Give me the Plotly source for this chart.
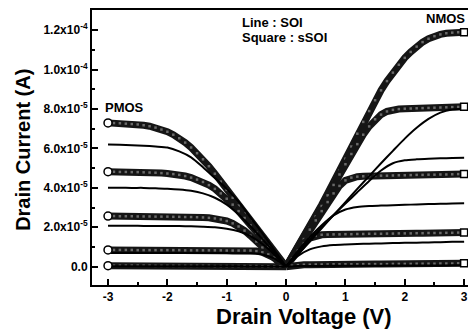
import plotly.graph_objects as go

# ---------------- data (currents in units of 1e-5 A) ----------------
v_n_sq = [round(0.1 * i, 1) for i in range(31)]          # 0.0 .. 3.0
v_p_sq = [round(-3.0 + 0.1 * i, 1) for i in range(31)]   # -3.0 .. 0.0
v_n_ln = [round(0.2 * i, 1) for i in range(16)]          # 0.0 .. 3.0
v_p_ln = [round(-3.0 + 0.2 * i, 1) for i in range(16)]   # -3.0 .. 0.0

# NMOS, sSOI (squares)
n_ssoi_1 = [0, 0.5, 1.0, 1.52, 2.05, 2.6, 3.15, 3.72, 4.3, 4.88, 5.48, 6.1, 6.75, 7.35, 7.9, 8.45,
            8.95, 9.42, 9.85, 10.25, 10.6, 10.9, 11.17, 11.4, 11.57, 11.7, 11.79, 11.85, 11.88, 11.9, 11.9]
n_ssoi_2 = [0, 0.48, 0.98, 1.5, 2.0, 2.55, 3.08, 3.62, 4.15, 4.68, 5.2, 5.72, 6.22, 6.7, 7.12, 7.48,
            7.72, 7.88, 7.96, 8.0, 8.02, 8.03, 8.04, 8.05, 8.06, 8.07, 8.08, 8.09, 8.1, 8.11, 8.12]
n_ssoi_3 = [0, 0.46, 0.93, 1.4, 1.88, 2.35, 2.82, 3.28, 3.72, 4.1, 4.38, 4.52, 4.57, 4.59, 4.6, 4.61,
            4.62, 4.62, 4.63, 4.64, 4.64, 4.65, 4.66, 4.66, 4.67, 4.67, 4.68, 4.68, 4.69, 4.7, 4.7]
n_ssoi_4 = [0, 0.42, 0.82, 1.18, 1.45, 1.58, 1.62, 1.63, 1.64, 1.64, 1.65, 1.65, 1.66, 1.66, 1.67, 1.67,
            1.67, 1.68, 1.68, 1.69, 1.69, 1.69, 1.7, 1.7, 1.71, 1.71, 1.71, 1.72, 1.72, 1.73, 1.73]
n_ssoi_5 = [0, 0.05, 0.08, 0.1, 0.1, 0.11, 0.11, 0.11, 0.12, 0.12, 0.12, 0.12, 0.12, 0.13, 0.13, 0.13,
            0.13, 0.13, 0.14, 0.14, 0.14, 0.14, 0.15, 0.15, 0.15, 0.15, 0.16, 0.16, 0.16, 0.17, 0.17]

# PMOS, sSOI (squares), |Id|
p_ssoi_1 = [7.3, 7.29, 7.28, 7.26, 7.24, 7.22, 7.18, 7.13, 7.06, 6.96, 6.85, 6.7, 6.52, 6.3, 6.05, 5.76,
            5.45, 5.1, 4.72, 4.32, 3.9, 3.5, 3.1, 2.7, 2.3, 1.9, 1.5, 1.12, 0.74, 0.37, 0]
p_ssoi_2 = [4.82, 4.82, 4.81, 4.81, 4.8, 4.8, 4.79, 4.78, 4.77, 4.75, 4.73, 4.7, 4.66, 4.6, 4.52, 4.42,
            4.3, 4.14, 3.95, 3.72, 3.45, 3.15, 2.82, 2.47, 2.1, 1.73, 1.37, 1.02, 0.68, 0.34, 0]
p_ssoi_3 = [2.57, 2.57, 2.56, 2.56, 2.56, 2.55, 2.55, 2.55, 2.54, 2.54, 2.54, 2.53, 2.53, 2.52, 2.52, 2.51,
            2.5, 2.48, 2.45, 2.4, 2.32, 2.2, 2.04, 1.83, 1.57, 1.28, 0.97, 0.66, 0.33, 0.16, 0]
p_ssoi_4 = [0.85, 0.85, 0.85, 0.85, 0.85, 0.84, 0.84, 0.84, 0.84, 0.84, 0.84, 0.84, 0.84, 0.83, 0.83, 0.83,
            0.83, 0.83, 0.83, 0.83, 0.82, 0.82, 0.82, 0.82, 0.82, 0.79, 0.73, 0.62, 0.45, 0.24, 0]
p_ssoi_5 = [0.05, 0.05, 0.05, 0.05, 0.05, 0.05, 0.05, 0.05, 0.04, 0.04, 0.04, 0.04, 0.04, 0.04, 0.04, 0.04,
            0.04, 0.04, 0.03, 0.03, 0.03, 0.03, 0.03, 0.03, 0.03, 0.03, 0.02, 0.02, 0.02, 0.01, 0]

# NMOS, SOI (lines)
n_soi_1 = [0, 0.62, 1.28, 1.95, 2.62, 3.28, 3.95, 4.6, 5.25, 5.88, 6.5, 7.05, 7.5, 7.82, 7.98, 8.02]
n_soi_2 = [0, 0.7, 1.38, 2.02, 2.62, 3.2, 3.78, 4.35, 4.88, 5.25, 5.4, 5.45, 5.48, 5.5, 5.52, 5.53]
n_soi_3 = [0, 0.8, 1.5, 2.1, 2.6, 2.9, 3.03, 3.08, 3.1, 3.12, 3.14, 3.16, 3.18, 3.19, 3.21, 3.22]
n_soi_4 = [0, 0.55, 0.88, 1.03, 1.1, 1.13, 1.15, 1.17, 1.18, 1.2, 1.21, 1.22, 1.23, 1.24, 1.26, 1.27]
n_soi_5 = [0, 0.03, 0.04, 0.04, 0.05, 0.05, 0.05, 0.05, 0.05, 0.06, 0.06, 0.06, 0.06, 0.06, 0.07, 0.07]

# PMOS, SOI (lines), |Id|
p_soi_1 = [6.2, 6.19, 6.17, 6.14, 6.1, 6.05, 5.85, 5.55, 5.05, 4.5, 3.95, 3.3, 2.5, 1.7, 0.85, 0]
p_soi_2 = [4.01, 4.01, 4.0, 4.0, 3.98, 3.96, 3.92, 3.85, 3.72, 3.5, 3.15, 2.65, 2.05, 1.4, 0.72, 0]
p_soi_3 = [2.08, 2.08, 2.08, 2.07, 2.07, 2.06, 2.06, 2.05, 2.03, 2.0, 1.93, 1.8, 1.55, 1.15, 0.62, 0]
p_soi_4 = [0.7, 0.7, 0.7, 0.7, 0.7, 0.7, 0.7, 0.7, 0.69, 0.69, 0.69, 0.68, 0.68, 0.62, 0.42, 0]
p_soi_5 = [0.02, 0.02, 0.02, 0.02, 0.02, 0.02, 0.02, 0.02, 0.02, 0.02, 0.02, 0.02, 0.01, 0.01, 0.01, 0]

y_tick_vals = [0, 2e-5, 4e-5, 6e-5, 8e-5, 1.0e-4, 1.2e-4]
y_tick_text = ["0.0", "2.0x10<sup>-5</sup>", "4.0x10<sup>-5</sup>", "6.0x10<sup>-5</sup>",
               "8.0x10<sup>-5</sup>", "1.0x10<sup>-4</sup>", "1.2x10<sup>-4</sup>"]
x_tick_vals = [-3, -2, -1, 0, 1, 2, 3]
x_tick_text = ["-3", "-2", "-1", "0", "1", "2", "3"]

SCALE = 1e-5
FONT = "Liberation Sans, Arial, sans-serif"

fig = go.Figure()

def scaled(vals):
    return [v * SCALE for v in vals]

# sSOI bands (dense squares)
for xs, ys in [(v_n_sq, n_ssoi_1), (v_n_sq, n_ssoi_2), (v_n_sq, n_ssoi_3), (v_n_sq, n_ssoi_4), (v_n_sq, n_ssoi_5),
               (v_p_sq, p_ssoi_1), (v_p_sq, p_ssoi_2), (v_p_sq, p_ssoi_3), (v_p_sq, p_ssoi_4), (v_p_sq, p_ssoi_5)]:
    fig.add_trace(go.Scatter(x=xs, y=scaled(ys), mode="lines+markers",
                             line=dict(color="#151515", width=7),
                             marker=dict(symbol="square", size=2.5, color="#6a6a6a", line=dict(width=0)),
                             showlegend=False, hoverinfo="skip"))

# SOI lines
for xs, ys in [(v_n_ln, n_soi_1), (v_n_ln, n_soi_2), (v_n_ln, n_soi_3), (v_n_ln, n_soi_4), (v_n_ln, n_soi_5),
               (v_p_ln, p_soi_1), (v_p_ln, p_soi_2), (v_p_ln, p_soi_3), (v_p_ln, p_soi_4), (v_p_ln, p_soi_5)]:
    fig.add_trace(go.Scatter(x=xs, y=scaled(ys), mode="lines",
                             line=dict(color="#000000", width=2, shape="spline", smoothing=0.6),
                             showlegend=False, hoverinfo="skip"))

# end markers of the sSOI bands
n_ends = [n_ssoi_1, n_ssoi_2, n_ssoi_3, n_ssoi_4, n_ssoi_5]
p_ends = [p_ssoi_1, p_ssoi_2, p_ssoi_3, p_ssoi_4, p_ssoi_5]
fig.add_trace(go.Scatter(x=[v_n_sq[-1]] * 5, y=[s[-1] * SCALE for s in n_ends], mode="markers",
                         marker=dict(symbol="square", size=7, color="white", line=dict(color="black", width=1.5)),
                         showlegend=False, hoverinfo="skip"))
fig.add_trace(go.Scatter(x=[v_p_sq[0]] * 5, y=[s[0] * SCALE for s in p_ends], mode="markers",
                         marker=dict(symbol="circle", size=8, color="white", line=dict(color="black", width=1.5)),
                         showlegend=False, hoverinfo="skip"))

anno_font = dict(family=FONT, size=13, color="black", weight="bold")
fig.add_annotation(x=-0.775, y=12.42e-5, text="Line : SOI", showarrow=False, xanchor="left", yanchor="middle", font=anno_font)
fig.add_annotation(x=-0.775, y=11.61e-5, text="Square : sSOI", showarrow=False, xanchor="left", yanchor="middle", font=anno_font)
fig.add_annotation(x=2.68, y=12.62e-5, text="NMOS", showarrow=False, xanchor="center", yanchor="middle", font=anno_font)
fig.add_annotation(x=-2.73, y=8.1e-5, text="PMOS", showarrow=False, xanchor="center", yanchor="middle", font=anno_font)

# axis titles
fig.add_annotation(xref="paper", yref="paper", x=0.552, y=-0.115, text="Drain Voltage (V)", showarrow=False,
                   xanchor="center", yanchor="middle", font=dict(family=FONT, size=22, color="black", weight="bold"))
fig.add_annotation(xref="paper", yref="paper", x=-0.18, y=0.491, text="Drain Current (A)", showarrow=False,
                   textangle=-90, xanchor="center", yanchor="middle",
                   font=dict(family=FONT, size=20, color="black", weight="bold"))

# the page body has an 8px margin, so the figure is shifted 8px right/down
fig.update_layout(
    width=468, height=326,
    margin=dict(l=84, r=0, t=2, b=49),
    paper_bgcolor="white", plot_bgcolor="white",
    xaxis=dict(range=[-3.27, 3.20], tickmode="array", tickvals=x_tick_vals, ticktext=x_tick_text,
               ticks="inside", ticklen=6, tickwidth=2, tickcolor="black",
               showline=True, linecolor="black", linewidth=2, mirror=True,
               showgrid=False, zeroline=False,
               minor=dict(tickvals=[-2.5, -1.5, -0.5, 0.5, 1.5, 2.5], ticks="inside", ticklen=3, tickwidth=2, tickcolor="black"),
               tickfont=dict(family=FONT, size=12, color="black", weight="bold")),
    yaxis=dict(range=[-0.93e-5, 13.03e-5], tickmode="array", tickvals=y_tick_vals, ticktext=y_tick_text,
               ticks="inside", ticklen=6, tickwidth=2, tickcolor="black",
               showline=True, linecolor="black", linewidth=2, mirror=False,
               showgrid=False, zeroline=False,
               minor=dict(tickvals=[1e-5, 3e-5, 5e-5, 7e-5, 9e-5, 1.1e-4], ticks="inside", ticklen=3, tickwidth=2, tickcolor="black"),
               tickfont=dict(family=FONT, size=12, color="black", weight="bold")),
)

fig.write_html("out.html")
